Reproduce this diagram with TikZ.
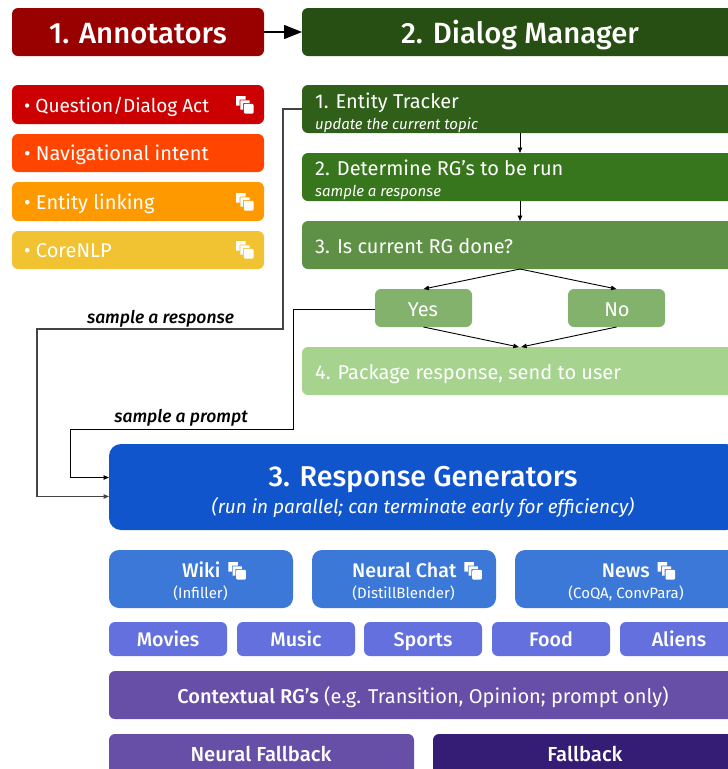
\documentclass[tikz,border=0pt]{standalone}
\usepackage{fontspec}
\setmainfont{Fira Sans}
\newfontfamily\medfont{Fira Sans Medium}
\usetikzlibrary{arrows.meta}
\definecolor{cAnn}{HTML}{990000}
\definecolor{cDM}{HTML}{274E13}
\definecolor{cQ}{HTML}{CC0000}
\definecolor{cNav}{HTML}{FF4500}
\definecolor{cEL}{HTML}{FF9900}
\definecolor{cNLP}{HTML}{F1C232}
\definecolor{cG1}{HTML}{2F5F19}
\definecolor{cG2}{HTML}{38761D}
\definecolor{cG3}{HTML}{5E9146}
\definecolor{cYN}{HTML}{82B26C}
\definecolor{cG4}{HTML}{A6D48F}
\definecolor{cRG}{HTML}{1155CC}
\definecolor{cBlue}{HTML}{3C78D8}
\definecolor{cTopic}{HTML}{6370DE}
\definecolor{cPur}{HTML}{674EA7}
\definecolor{cDark}{HTML}{351C75}
\definecolor{cLine}{HTML}{444444}
\newcommand{\boxat}[7][6pt]{% radius, name, x1,y1,x2,y2, colour
  \node[boxn,rounded corners=#1,fill=#7,minimum width=#5pt-#3pt,minimum height=#6pt-#4pt,anchor=north west] (#2) at (#3,#4) {};}
\newcommand{\icondraw}{%
    \fill[white] (0,0) rectangle (9.5,3.5) (0,0) rectangle (3.5,9.5);
    \fill[white] (4.3,4.3) rectangle (13.5,7) (4.3,4.3) rectangle (7,13.5);
    \fill[white,rounded corners=1pt] (7.8,7.8) rectangle (17.5,17.5);}
\newcommand{\copyicon}[1]{\begin{scope}[shift={#1}]\icondraw\end{scope}}
\newcommand{\inlinecopy}{\tikz[x=1pt,y=-1pt,baseline=-15pt]{\icondraw}}
\tikzset{
  boxn/.style={rectangle,inner sep=0pt,outer sep=0pt,draw=none},
  lbl/.style={text=white,inner sep=0pt,anchor=base west},
  ctr/.style={text=white,inner sep=0pt,anchor=base},
  title/.style={font=\medfont\fontsize{29.3}{31}\selectfont},
  item/.style={font=\fontsize{20}{22}\selectfont},
  card/.style={font=\medfont\fontsize{19.7}{22}\selectfont},
  sub/.style={font=\itshape\fontsize{15}{17}\selectfont},
  small/.style={font=\fontsize{15}{17}\selectfont},
  note/.style={font=\itshape\medfont\fontsize{17.5}{19}\selectfont,text=black,inner sep=0pt,anchor=base},
  conn/.style={line width=1.1pt,draw=cLine},
  connb/.style={line width=0.9pt,draw=black},
  tip/.style={-{Triangle[length=5.5pt,width=4.5pt]}},
}
\begin{document}
\begin{tikzpicture}[x=1pt,y=-1pt]
\useasboundingbox (0,0) rectangle (728,769);
\clip (0,0) rectangle (728,769);
% column 1
\boxat{ann}{12}{8}{264}{56}{cAnn}
\boxat{q}{12}{85}{264}{124}{cQ}
\boxat{nav}{12}{134}{264}{172}{cNav}
\boxat{el}{12}{182}{264}{221}{cEL}
\boxat{nlp}{12}{231}{264}{269}{cNLP}
\node[ctr,title] (annT) at (138,43) {1. Annotators};
\node[lbl,font=\fontsize{19}{21}\selectfont] (qT) at (24,112) {• Question/Dialog Act};
\node[lbl,item] (navT) at (24,160) {• Navigational intent};
\node[lbl,item] (elT) at (24,209) {• Entity linking};
\node[lbl,item] (nlpT) at (24,257) {• CoreNLP};
\copyicon{(236,96)}
\copyicon{(236,193)}
\copyicon{(236,241)}
% column 2
\boxat{dm}{302}{8}{738}{56}{cDM}
\boxat{et}{302}{85}{738}{133}{cG1}
\boxat{det}{302}{153}{738}{201}{cG2}
\boxat{done}{302}{221}{738}{269}{cG3}
\boxat{yes}{375}{289}{472}{327}{cYN}
\boxat{no}{568}{289}{665}{327}{cYN}
\boxat{pkg}{302}{347}{738}{395}{cG4}
\node[ctr,title] (dmT) at (520,43) {2. Dialog Manager};
\node[lbl,item] (etT) at (315,108) {1. Entity Tracker};
\node[lbl,sub] (etS) at (315,129) {update the current topic};
\node[lbl,item] (detT) at (315,175) {2. Determine RG’s to be run};
\node[lbl,sub] (detS) at (315,196) {sample a response};
\node[lbl,item] (doneT) at (315,253) {3. Is current RG done?};
\node[ctr,item] (yesT) at (423,316) {Yes};
\node[ctr,item] (noT) at (617,316) {No};
\node[lbl,item] (pkgT) at (315,379) {4. Package response, send to user};
% RG
\boxat[12pt]{rg}{109}{444}{738}{530}{cRG}
\node[ctr,font=\medfont\fontsize{28.7}{31}\selectfont] (rgT) at (423,486) {3. Response Generators};
\node[ctr,font=\itshape\fontsize{19}{21}\selectfont] (rgS) at (423,513) {(run in parallel; can terminate early for efficiency)};
\boxat[10pt]{wiki}{109}{550}{293}{608}{cBlue}
\boxat[10pt]{chat}{312}{550}{496}{608}{cBlue}
\boxat[10pt]{news}{515}{550}{737}{608}{cBlue}
\node[ctr,card] (wikiT) at (214,577) {Wiki\hspace{8pt}\inlinecopy};
\node[ctr,small] (wikiS) at (200.5,598) {(Infiller)};
\node[ctr,card] (chatT) at (417,577) {Neural Chat\hspace{8pt}\inlinecopy};
\node[ctr,small] (chatS) at (403.5,598) {(DistillBlender)};
\node[ctr,card] (newsT) at (638.5,577) {News\hspace{8pt}\inlinecopy};
\node[ctr,small] (newsS) at (626,598) {(CoQA, ConvPara)};
\boxat{mov}{109}{622}{227}{656}{cTopic}
\boxat{mus}{237}{622}{355}{656}{cTopic}
\boxat{spo}{364}{622}{482}{656}{cTopic}
\boxat{foo}{492}{622}{610}{656}{cTopic}
\boxat{ali}{620}{622}{738}{656}{cTopic}
\node[ctr,card] (movT) at (168,646) {Movies};
\node[ctr,card] (musT) at (296,646) {Music};
\node[ctr,card] (spoT) at (423,646) {Sports};
\node[ctr,card] (fooT) at (551,646) {Food};
\node[ctr,card] (aliT) at (679,646) {Aliens};
\boxat{ctx}{109}{671}{738}{719}{cPur}
\node[ctr,item] (ctxT) at (423,703) {{\medfont Contextual RG’s} (e.g. Transition, Opinion; prompt only)};
\boxat{nf}{109}{734}{414}{790}{cPur}
\boxat{fb}{433}{734}{738}{790}{cDark}
\node[ctr,font=\medfont\fontsize{20.3}{22}\selectfont] (nfT) at (261,761) {Neural Fallback};
\node[ctr,font=\medfont\fontsize{20.3}{22}\selectfont] (fbT) at (585,761) {Fallback};
% notes
\node[note] (n1) at (160.5,323) {sample a response};
\node[note] (n2) at (181,422) {sample a prompt};
% connectors
\draw[line width=1.4pt,-{Triangle[length=18pt,width=14pt]}] (ann.east) -- (dm.west |- ann.east);
\draw[connb,tip] (et.south) -- (det.north);
\draw[connb,tip] (det.south) -- (done.north);
\draw[connb,tip] (done.south) -- (yes.north);
\draw[connb,tip] (done.south) -- (no.north);
\draw[connb,tip] (yes.south) -- ([xshift=-1.2pt]pkg.north);
\draw[connb,tip] (no.south) -- ([xshift=1.2pt]pkg.north);
\coordinate (rgA) at ([yshift=-9.5pt]rg.west);
\coordinate (rgB) at ([yshift=9.5pt]rg.west);
\coordinate (c1) at (283,109);
\coordinate (c2) at (283,329);
\coordinate (c3) at (37,329);
\draw[conn,tip] (et.west) -- (c1) -- (c2) -- (c3) -- (c3 |- rgA) -- (rgA);
\coordinate (yesW) at ([yshift=-1pt]yes.west);
\coordinate (d1) at (293,309);
\coordinate (d2) at (293,429);
\coordinate (d3) at (70,429);
\draw[connb,tip] (yesW) -- (yesW -| d1) -- (d2) -- (d3) -- (d3 |- rgB) -- (rgB);
\end{tikzpicture}
\end{document}
